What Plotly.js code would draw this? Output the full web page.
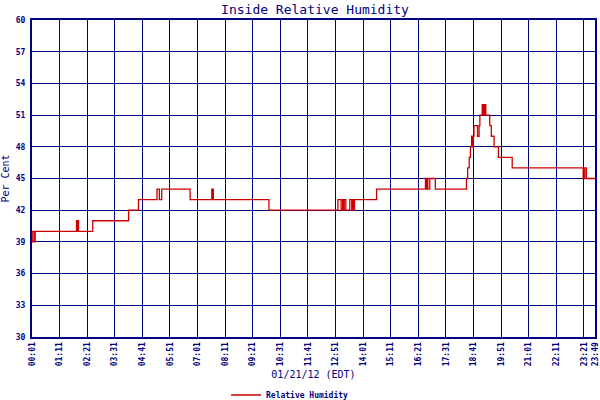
<!DOCTYPE html>
<html>
<head>
<meta charset="utf-8">
<script src="https://cdn.plot.ly/plotly-3.0.1.min.js"></script>
<style>html,body{margin:0;padding:0;background:#fff;}#chart{width:600px;height:400px;}</style>
</head>
<body>
<div id="chart"></div>
<script>
// Readings (time of change, relative humidity %)
var times = ["00:01","00:03","00:07","00:09","01:54","01:56","01:57","01:59","02:35","04:06","04:31",
  "05:18","05:24","05:30","06:42","07:37","07:39","07:40","07:41","10:02",
  "12:57","13:05","13:09","13:11","13:13","13:17","13:27","13:32","13:35","13:37","13:39",
  "14:35","16:39","16:41","16:43","16:45","16:50","17:04",
  "18:23","18:26","18:30","18:33","18:36","18:38","18:40","18:42","18:51","18:55","18:57",
  "19:03","19:05","19:07","19:09","19:10","19:12","19:22","19:26","19:33","19:44","20:19",
  "23:19","23:23","23:27","23:49"];
var humidity = [39,40,39,40,41,40,41,40,41,42,43,
  44,43,44,43,44,43,44,43,42,
  43,42,43,42,43,42,43,42,43,42,43,
  44,45,44,45,44,45,44,
  45,46,47,48,49,48,49,50,49,50,51,
  52,51,52,51,52,51,50,49,48,47,46,
  45,46,45,45];
var tickLabels = ["00:01","01:11","02:21","03:31","04:41","05:51","07:01","08:11","09:21","10:31",
  "11:41","12:51","14:01","15:11","16:21","17:31","18:41","19:51","21:01","22:11","23:21","23:49"];
var yTicks = [30,33,36,39,42,45,48,51,54,57,60];

function toMin(s){var p=s.split(":");return parseInt(p[0],10)*60+parseInt(p[1],10);}
var xs = times.map(toMin);
var tickVals = tickLabels.map(toMin);

var navy = "#000080";
var mono = "DejaVu Sans Mono, Liberation Mono, monospace";

var trace = {
  x: xs, y: humidity, type: "scatter", mode: "lines",
  line: {color: "#cc0000", width: 1.3, shape: "hv"},
  name: "Relative Humidity"
};

var layout = {
  width: 600, height: 400,
  margin: {l: 32, r: 5, t: 20, b: 63, pad: 0},
  paper_bgcolor: "#ffffff", plot_bgcolor: "#ffffff",
  title: {text: "Inside Relative Humidity", font: {family: mono, size: 13, color: navy},
    x: 315/600, xanchor: "center", y: 1 - 9/400, yanchor: "middle", yref: "container"},
  xaxis: {
    range: [toMin(tickLabels[0]), toMin(tickLabels[tickLabels.length-1]) + 0.01],
    tickmode: "array", tickvals: tickVals, ticktext: tickLabels,
    tickangle: -90, tickfont: {family: mono, size: 8, color: navy, weight: "bold"},
    ticklabeloverflow: "allow",
    showgrid: true, gridcolor: navy, gridwidth: 1,
    showline: true, linecolor: navy, linewidth: 2, mirror: true,
    zeroline: false, ticks: "", automargin: false,
    title: {text: "01/21/12 (EDT)", font: {family: mono, size: 10, color: navy}, standoff: 12}
  },
  yaxis: {
    range: [30, 60], tickmode: "array", tickvals: yTicks, ticktext: yTicks.map(String),
    tickfont: {family: mono, size: 8, color: navy, weight: "bold"},
    showgrid: true, gridcolor: navy, gridwidth: 1,
    showline: true, linecolor: navy, linewidth: 2, mirror: true,
    zeroline: false, ticks: "outside", ticklen: 3, tickcolor: "rgba(0,0,0,0)", automargin: false,
    title: {text: "Per Cent", font: {family: mono, size: 10, color: navy}, standoff: 4}
  },
  showlegend: true,
  legend: {orientation: "h", x: (226-32)/563, xanchor: "left",
    yref: "container", y: 1 - 395/400, yanchor: "middle",
    font: {family: mono, size: 8, color: navy, weight: "bold"}, bgcolor: "rgba(0,0,0,0)"}
};

Plotly.newPlot("chart", [trace], layout, {staticPlot: true, displayModeBar: false});
</script>
</body>
</html>
